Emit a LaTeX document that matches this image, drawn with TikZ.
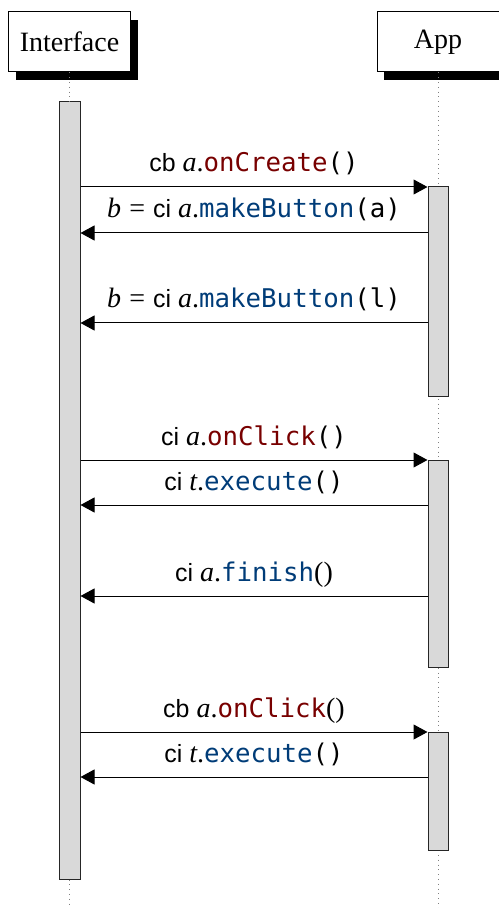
\documentclass[tikz,border=0pt]{standalone}
\usepackage{fontspec}
\setmainfont{Liberation Serif}
\setsansfont{Liberation Sans}[Scale=0.89]
\setmonofont{DejaVu Sans Mono}[Scale=0.92]
\usetikzlibrary{arrows.meta,shadows,fit}
\definecolor{callred}{RGB}{120,0,0}
\definecolor{callblue}{RGB}{0,60,120}
\definecolor{barfill}{RGB}{217,217,217}
% call kind, callback and interface methods
\newcommand\kw[1]{\textsf{#1}}
\newcommand\mred[1]{\textcolor{callred}{\texttt{#1}}}
\newcommand\mblue[1]{\textcolor{callblue}{\texttt{#1}}}
\newcommand\eqsign{\hspace{0.04em}=\hspace{0.04em}}
\begin{document}
\begin{tikzpicture}[x=0.5pt,y=-0.5pt,
  actor/.style={draw, line width=0.5pt, fill=white, minimum width=61pt,
    minimum height=30pt, inner sep=0pt, font=\fontsize{14}{16}\selectfont,
    general shadow={fill=black, shadow xshift=3.5pt, shadow yshift=-4pt}},
  actbar/.style={draw=black!85, fill=barfill, line width=0.5pt, inner sep=0pt},
  lifeline/.style={dotted, gray, line width=0.4pt},
  msg/.style={-{Triangle[length=7pt,width=7.5pt]}, line width=0.5pt},
  msglabel/.style={anchor=base, yshift=7.5pt, font=\fontsize{14}{16}\selectfont}]
\useasboundingbox (0,0) rectangle (498,908);

% participants
\node[actor] (iface) at (69.5,42) {Interface};
\node[actor] (app) at (438,42) {App};

% lifelines
\coordinate (iend) at (69.5,908);
\coordinate (aend) at (438,908);
\draw[lifeline] (app.south) -- (aend);

% activation bars
\node[actbar, fit={(59,102) (80,879)}] (ibar) {};
\node[actbar, fit={(428,187) (448,396)}] (abar1) {};
\node[actbar, fit={(428,460) (448,667)}] (abar2) {};
\node[actbar, fit={(428,732) (448,850)}] (abar3) {};
\draw[lifeline] (iface.south) -- (ibar.north);
\draw[lifeline] (ibar.south) -- (iend);

% message rows
\coordinate (r1) at (0,187);
\coordinate (r2) at (0,233);
\coordinate (r3) at (0,323);
\coordinate (r4) at (0,460);
\coordinate (r5) at (0,505);
\coordinate (r6) at (0,596);
\coordinate (r7) at (0,732);
\coordinate (r8) at (0,777);

\draw[msg] (ibar.east |- r1) -- (abar1.west |- r1)
  node[msglabel, midway] {\kw{cb} \textit{a}.\mred{onCreate}\texttt{()}};
\draw[msg] (abar1.west |- r2) -- (ibar.east |- r2)
  node[msglabel, midway] {\textit{b} \eqsign{} \kw{ci} \textit{a}.\mblue{makeButton}\texttt{(a)}};
\draw[msg] (abar1.west |- r3) -- (ibar.east |- r3)
  node[msglabel, midway] {\textit{b} \eqsign{} \kw{ci} \textit{a}.\mblue{makeButton}\texttt{(l)}};

\draw[msg] (ibar.east |- r4) -- (abar2.west |- r4)
  node[msglabel, midway] {\kw{ci} \textit{a}.\mred{onClick}\texttt{()}};
\draw[msg] (abar2.west |- r5) -- (ibar.east |- r5)
  node[msglabel, midway] {\kw{ci} \textit{t}.\mblue{execute}\texttt{()}};
\draw[msg] (abar2.west |- r6) -- (ibar.east |- r6)
  node[msglabel, midway] {\kw{ci} \textit{a}.\mblue{finish}()};

\draw[msg] (ibar.east |- r7) -- (abar3.west |- r7)
  node[msglabel, midway] {\kw{cb} \textit{a}.\mred{onClick}()};
\draw[msg] (abar3.west |- r8) -- (ibar.east |- r8)
  node[msglabel, midway] {\kw{ci} \textit{t}.\mblue{execute}\texttt{()}};
\end{tikzpicture}
\end{document}
